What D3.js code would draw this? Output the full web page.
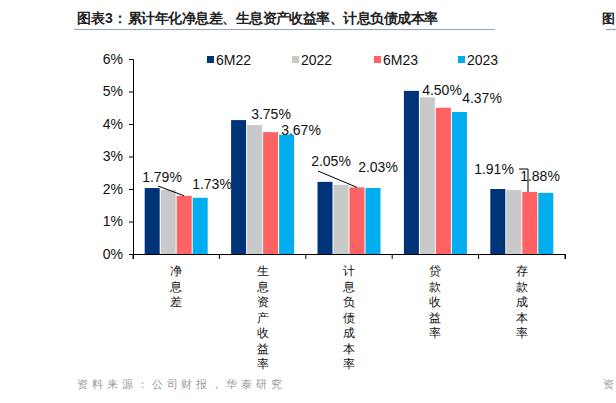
<!DOCTYPE html><html><head><meta charset="utf-8"><script src="https://cdn.jsdelivr.net/npm/d3@7"></script>
<style>body{margin:0;background:#fff}text{font-family:"Liberation Sans",Arial,sans-serif}</style></head><body><svg id="c" width="616" height="403"></svg><script>
const categories=["净息差","生息资产收益率","计息负债成本率","贷款收益率","存款成本率"];
const seriesNames=["6M22","2022","6M23","2023"];
const s6M22=[2.03,4.12,2.22,5.02,2.00];
const s2022=[1.97,3.97,2.13,4.82,1.97];
const s6M23=[1.79,3.75,2.05,4.50,1.91];
const s2023=[1.73,3.67,2.03,4.37,1.88];
const yTicks=[0,1,2,3,4,5,6];
const colors=["#003478","#c9c9c9","#ff6262","#00aeef"];
const series=[s6M22,s2022,s6M23,s2023];
const svg=d3.select("#c");
const cjk='"Noto Sans CJK SC",sans-serif';
svg.append("text").attr("x",77).attr("y",23).attr("font-family",cjk).attr("font-weight","bold").attr("font-size",14).attr("fill","#222").text("图表3：");
svg.append("text").attr("x",128).attr("y",23).attr("font-family",cjk).attr("font-weight","bold").attr("font-size",14).attr("fill","#222").attr("textLength",310).attr("lengthAdjust","spacing").text("累计年化净息差、生息资产收益率、计息负债成本率");
svg.append("line").attr("x1",74).attr("x2",495).attr("y1",29.5).attr("y2",29.5).attr("stroke","#8fa6bf").attr("stroke-width",1.2);
svg.append("text").attr("x",602).attr("y",23).attr("font-family",cjk).attr("font-weight","bold").attr("font-size",13).attr("fill","#222").text("图");
svg.append("line").attr("x1",606).attr("x2",616).attr("y1",29.5).attr("y2",29.5).attr("stroke","#8fa6bf").attr("stroke-width",1.2);
svg.append("text").attr("x",77).attr("y",388).attr("font-family",cjk).attr("font-size",11).attr("fill","#999").attr("textLength",205).attr("lengthAdjust","spacing").text("资料来源：公司财报，华泰研究");
svg.append("text").attr("x",603).attr("y",388).attr("font-family",cjk).attr("font-size",11).attr("fill","#999").text("资");
const y=d3.scaleLinear().domain([0,6]).range([254,59]);
const x=d3.scaleBand().domain(categories).range([133,565]);
const xi=d3.scaleBand().domain(seriesNames).range([0,64]);
const ya=svg.append("g").attr("transform","translate(133,0)").call(d3.axisLeft(y).tickValues(yTicks).tickFormat(d=>d+"%").tickSize(4));
ya.selectAll("text").attr("font-size",14).attr("fill","#111").attr("dx",-3);
ya.select(".domain").attr("stroke","#000");
series.forEach((s,i)=>{
 svg.append("g").selectAll("rect").data(s).join("rect")
  .attr("x",(d,j)=>x(categories[j])+(x.bandwidth()-64)/2+xi(seriesNames[i])+0.5)
  .attr("width",xi.bandwidth()-1).attr("y",d=>y(d)).attr("height",d=>254-y(d)).attr("fill",colors[i]);
});
const xa=svg.append("g").attr("transform","translate(0,254)").call(d3.axisBottom(x).tickSize(5).tickFormat(""));
xa.selectAll(".tick").remove();
[133,...categories.map(c=>x(c)+x.bandwidth())].forEach(t=>svg.append("line").attr("x1",t).attr("x2",t).attr("y1",254).attr("y2",259).attr("stroke","#000"));
xa.select(".domain").attr("stroke","#000");
categories.forEach(c=>{
 [...c].forEach((ch,k)=>svg.append("text").attr("x",x(c)+x.bandwidth()/2).attr("y",275+k*15.5).attr("text-anchor","middle").attr("font-family",cjk).attr("font-size",12).attr("fill","#111").text(ch));
});
const labelPos=[[[162,182],[212,189]],[[271,119],[301,135]],[[331,166],[378,172]],[[442,95],[482,103]],[[494,174],[540,181]]];
labelPos.forEach((p,j)=>{
 [s6M23[j],s2023[j]].forEach((v,k)=>svg.append("text").attr("x",p[k][0]).attr("y",p[k][1]).attr("text-anchor","middle").attr("font-size",14).attr("fill","#111").text(v.toFixed(2)+"%"));
});
const lead=d3.line();
const cx=j=>x(categories[j])+(x.bandwidth()-64)/2+xi("6M23")+8;
svg.append("path").attr("d",lead([[158,186],[cx(0),y(s6M23[0])]])).attr("stroke","#000").attr("fill","none");
svg.append("path").attr("d",lead([[318,171],[cx(2),y(s6M23[2])]])).attr("stroke","#000").attr("fill","none");
svg.append("path").attr("d",lead([[519,169],[528,169],[528,y(s6M23[4])]])).attr("stroke","#000").attr("fill","none");
const lx=[207,292,374,458];
seriesNames.forEach((n,i)=>{
 svg.append("rect").attr("x",lx[i]).attr("y",56).attr("width",7).attr("height",7).attr("fill",colors[i]);
 svg.append("text").attr("x",lx[i]+9).attr("y",65).attr("font-size",14).attr("fill","#111").text(n);
});
</script></body></html>
